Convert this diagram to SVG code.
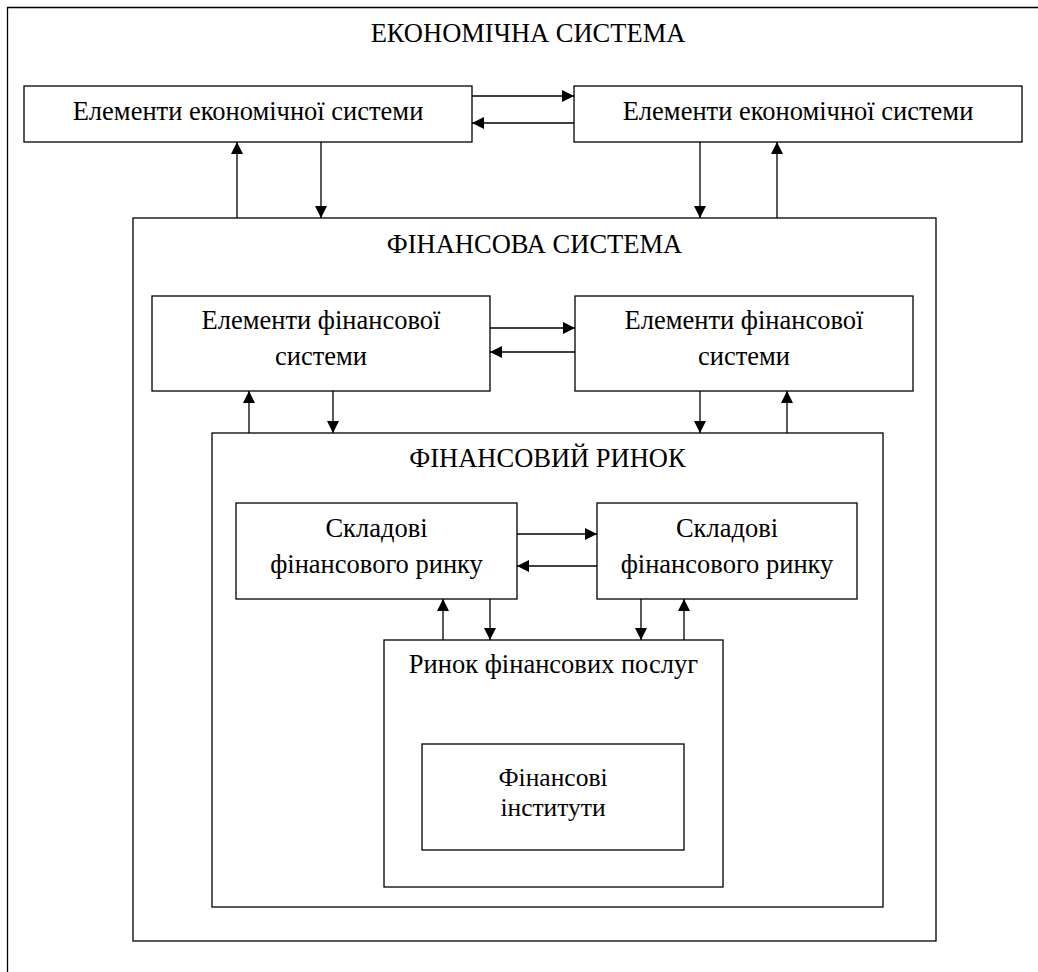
<svg xmlns="http://www.w3.org/2000/svg" width="1038" height="972" viewBox="0 0 1038 972">
<style>
.box{fill:#fff;stroke:#000;stroke-width:1.3}
.frame{fill:none;stroke:#000;stroke-width:1.3}
.t{font-family:"Liberation Serif","Times New Roman",serif;font-size:26.5px;fill:#000;text-anchor:middle}
.s{font-size:25.5px}
.c{stroke:#000;stroke-width:1.3;fill:none;marker-end:url(#ah)}
</style>
<defs>
<marker id="ah" markerUnits="userSpaceOnUse" markerWidth="12" markerHeight="12" refX="12" refY="6" orient="auto">
<path d="M0,0 L12,6 L0,12 z" fill="#000"/>
</marker>
</defs>
<rect width="1038" height="972" fill="#fff"/>
<g id="economic-system">
<path class="frame" d="M7.5,972 V7.5 H1038"/>
<text class="t" x="528" y="42">ЕКОНОМІЧНА СИСТЕМА</text>
</g>
<g id="econ-elements-left">
<rect class="box" x="24" y="86" width="448" height="56"/>
<text class="t" x="248" y="120">Елементи економічної системи</text>
</g>
<g id="econ-elements-right">
<rect class="box" x="574" y="86" width="448" height="56"/>
<text class="t" x="798" y="120">Елементи економічної системи</text>
</g>
<g id="financial-system">
<rect class="box" x="133" y="218" width="803" height="723"/>
<text class="t" x="534.5" y="253">ФІНАНСОВА СИСТЕМА</text>
</g>
<g id="fin-elements-left">
<rect class="box" x="152" y="296" width="338" height="95"/>
<text class="t" x="321" y="329">Елементи фінансової</text>
<text class="t" x="321" y="365">системи</text>
</g>
<g id="fin-elements-right">
<rect class="box" x="575" y="296" width="338" height="95"/>
<text class="t" x="744" y="329">Елементи фінансової</text>
<text class="t" x="744" y="365">системи</text>
</g>
<g id="financial-market">
<rect class="box" x="212" y="433" width="671" height="474"/>
<text class="t" x="547.5" y="467">ФІНАНСОВИЙ РИНОК</text>
</g>
<g id="market-parts-left">
<rect class="box" x="236" y="503" width="281" height="96"/>
<text class="t" x="376.5" y="537">Складові</text>
<text class="t" x="376.5" y="573">фінансового ринку</text>
</g>
<g id="market-parts-right">
<rect class="box" x="597" y="503" width="260" height="96"/>
<text class="t" x="727" y="537">Складові</text>
<text class="t" x="727" y="573">фінансового ринку</text>
</g>
<g id="financial-services-market">
<rect class="box" x="384" y="640" width="339" height="247"/>
<text class="t" x="553.5" y="673">Ринок фінансових послуг</text>
</g>
<g id="financial-institutions">
<rect class="box" x="422" y="744" width="262" height="106"/>
<text class="t s" x="553" y="786">Фінансові</text>
<text class="t s" x="553" y="816">інститути</text>
</g>
<g id="connectors">
<line class="c" x1="472" y1="96" x2="574" y2="96"/>
<line class="c" x1="574" y1="123" x2="472" y2="123"/>
<line class="c" x1="237" y1="218" x2="237" y2="142"/>
<line class="c" x1="321" y1="142" x2="321" y2="218"/>
<line class="c" x1="700" y1="142" x2="700" y2="218"/>
<line class="c" x1="777" y1="218" x2="777" y2="142"/>
<line class="c" x1="490" y1="328" x2="575" y2="328"/>
<line class="c" x1="575" y1="352" x2="490" y2="352"/>
<line class="c" x1="249" y1="433" x2="249" y2="391"/>
<line class="c" x1="333" y1="391" x2="333" y2="433"/>
<line class="c" x1="700" y1="391" x2="700" y2="433"/>
<line class="c" x1="787" y1="433" x2="787" y2="391"/>
<line class="c" x1="517" y1="534" x2="597" y2="534"/>
<line class="c" x1="597" y1="566" x2="517" y2="566"/>
<line class="c" x1="443" y1="640" x2="443" y2="599"/>
<line class="c" x1="490" y1="599" x2="490" y2="640"/>
<line class="c" x1="641" y1="599" x2="641" y2="640"/>
<line class="c" x1="684" y1="640" x2="684" y2="599"/>
</g>
</svg>
